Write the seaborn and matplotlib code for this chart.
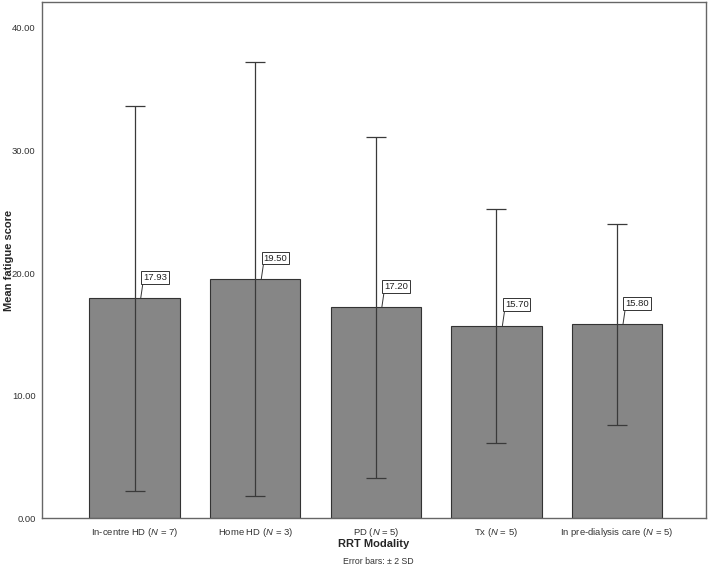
import pandas as pd
import matplotlib
matplotlib.use("Agg")
import matplotlib.pyplot as plt
import seaborn as sns

# summary values
modalities = [r"In-centre HD ($\mathit{N}$ = 7)", r"Home HD ($\mathit{N}$ = 3)",
              r"PD ($\mathit{N}$ = 5)", r"Tx ($\mathit{N}$ = 5)",
              r"In pre-dialysis care ($\mathit{N}$ = 5)"]
mean_scores = [17.93, 19.50, 17.20, 15.70, 15.80]
two_sd = [15.70, 17.70, 13.90, 9.55, 8.20]
y_ticks = [0, 10, 20, 30, 40]

df = pd.DataFrame({"modality": modalities, "mean": mean_scores, "err": two_sd})

sns.set_style("white")
plt.rcParams['font.family'] = ['Liberation Sans', 'DejaVu Sans']
plt.rcParams['mathtext.fontset'] = 'custom'
plt.rcParams['mathtext.rm'] = 'Liberation Sans'
plt.rcParams['mathtext.it'] = 'Liberation Sans:italic'

fig = plt.figure(figsize=(7.09, 5.68), dpi=100)
ax = fig.add_axes([0.059, 0.088, 0.937, 0.908])

sns.barplot(data=df, x="modality", y="mean", color="#868686", saturation=1,
            width=0.75, edgecolor="#333333", linewidth=0.8, errorbar=None, ax=ax)

ax.errorbar(range(len(df)), df["mean"], yerr=df["err"], fmt="none",
            ecolor="#3a3a3a", elinewidth=0.9, capsize=7.5, capthick=0.9, zorder=3)

# value labels with leader lines
for i, v in enumerate(df["mean"]):
    ax.annotate(f"{v:.2f}", xy=(i + 0.05, v), xytext=(i + 0.07, v + 1.35),
                fontsize=6.8, color="#222222", ha="left", va="bottom",
                bbox=dict(boxstyle="square,pad=0.2", fc="white", ec="#333333", lw=0.7),
                arrowprops=dict(arrowstyle="-", color="#333333", lw=0.7,
                                relpos=(0, 0), shrinkA=0, shrinkB=0))

ax.set_xlim(-0.77, 4.74)
ax.set_ylim(0, 42.1)
ax.set_yticks(y_ticks)
ax.set_yticklabels([f"{t:.2f}" for t in y_ticks])
ax.tick_params(axis="both", length=3, width=0.8, colors="#555555",
               labelsize=6.8, labelcolor="#333333", direction="out")
ax.tick_params(axis="x", pad=2.5)
ax.tick_params(axis="y", pad=1.5)
ax.set_xlabel("RRT Modality", fontsize=8, fontweight="bold")
ax.set_ylabel("Mean fatigue score", fontsize=8, fontweight="bold")
ax.xaxis.set_label_coords(0.5, -0.041)
ax.yaxis.set_label_coords(-0.042, 0.5)

for s in ax.spines.values():
    s.set_color("#666666")
    s.set_linewidth(1.0)

fig.text(0.533, 0.011, "Error bars: \u00b1 2 SD", ha="center", va="center",
         fontsize=6.3, color="#333333")

fig.savefig("out.png", dpi=100)
plt.close(fig)
